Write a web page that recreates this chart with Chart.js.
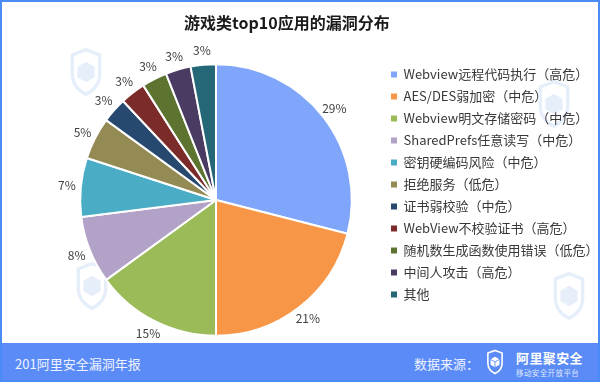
<!DOCTYPE html>
<html>
<head>
<meta charset="utf-8">
<script src="https://cdn.jsdelivr.net/npm/chart.js@4/dist/chart.umd.min.js"></script>
<style>
  html, body { margin:0; padding:0; background:#fff; }
  #wrap { position:relative; width:600px; height:382px; overflow:hidden; font-family:"Noto Sans CJK SC","Noto Sans",sans-serif; background:#fff; }
  #c { position:absolute; left:0; top:0; }
  #title { position:absolute; top:10px; left:184px; width:201px; text-align:center; font-size:16px; font-weight:bold; color:#1a1a1a; white-space:nowrap; }
  #footer { position:absolute; left:0; top:343px; width:600px; height:39px; background:#5b8bf6; color:#fff; }
  #border { position:absolute; left:0; top:0; width:596px; height:378px; border:2px solid #4a8bf7; pointer-events:none; }
  .ft { position:absolute; white-space:nowrap; }
  .wm { position:absolute; opacity:0.13; }
</style>
</head>
<body>
<div id="wrap">
  <svg class="wm" style="left:62px;top:48px;" width="48" height="48" viewBox="0 0 18 28"><path d="M9 1 L17 4 L17 15 C17 21 13 25 9 27 C5 25 1 21 1 15 L1 4 Z" fill="none" stroke="#4a7fe0" stroke-width="2"/><path d="M9 8 L14 11 L14 17 L9 20 L4 17 L4 11 Z" fill="#4a7fe0"/></svg>
  <svg class="wm" style="left:530px;top:80px;" width="48" height="48" viewBox="0 0 18 28"><path d="M9 1 L17 4 L17 15 C17 21 13 25 9 27 C5 25 1 21 1 15 L1 4 Z" fill="none" stroke="#4a7fe0" stroke-width="2"/><path d="M9 8 L14 11 L14 17 L9 20 L4 17 L4 11 Z" fill="#4a7fe0"/></svg>
  <svg class="wm" style="left:68px;top:262px;" width="48" height="48" viewBox="0 0 18 28"><path d="M9 1 L17 4 L17 15 C17 21 13 25 9 27 C5 25 1 21 1 15 L1 4 Z" fill="none" stroke="#4a7fe0" stroke-width="2"/><path d="M9 8 L14 11 L14 17 L9 20 L4 17 L4 11 Z" fill="#4a7fe0"/></svg>
  <svg class="wm" style="left:545px;top:272px;" width="48" height="48" viewBox="0 0 18 28"><path d="M9 1 L17 4 L17 15 C17 21 13 25 9 27 C5 25 1 21 1 15 L1 4 Z" fill="none" stroke="#4a7fe0" stroke-width="2"/><path d="M9 8 L14 11 L14 17 L9 20 L4 17 L4 11 Z" fill="#4a7fe0"/></svg>
  <canvas id="c" width="600" height="382"></canvas>
  <div id="title">游戏类top10应用的漏洞分布</div>
  <div id="footer">
    <div class="ft" style="left:15px;top:11px;font-size:13px;color:#eef3ff;">201阿里安全漏洞年报</div>
    <div class="ft" style="left:414px;top:11px;font-size:13px;color:#eef3ff;">数据来源：</div>
    <svg class="ft" style="left:487px;top:6px;" width="16" height="26" viewBox="0 0 18 28">
      <path d="M9 1 L17 4 L17 15 C17 21 13 25 9 27 C5 25 1 21 1 15 L1 4 Z" fill="none" stroke="#fff" stroke-width="1.8"/>
      <path d="M9 8 L14 11 L14 17 L9 20 L4 17 L4 11 Z" fill="#fff"/>
      <path d="M4 11 L9 14 L14 11 M9 14 L9 20" fill="none" stroke="#5b8bf6" stroke-width="1"/>
    </svg>
    <div class="ft" style="left:516px;top:5px;font-size:13px;font-weight:bold;letter-spacing:0.4px;">阿里聚安全</div>
    <div class="ft" style="left:516px;top:24px;font-size:7.5px;color:#dfe8ff;letter-spacing:0.4px;">移动安全开放平台</div>
  </div>
  <div id="border"></div>
</div>
<script>
const categories = [
  "Webview远程代码执行（高危）",
  "AES/DES弱加密（中危）",
  "Webview明文存储密码（中危）",
  "SharedPrefs任意读写（中危）",
  "密钥硬编码风险（中危）",
  "拒绝服务（低危）",
  "证书弱校验（中危）",
  "WebView不校验证书（高危）",
  "随机数生成函数使用错误（低危）",
  "中间人攻击（高危）",
  "其他"
];
const percentages = [29, 21, 15, 8, 7, 5, 3, 3, 3, 3, 3];
const sliceColors = ["#7fa6fa","#f79646","#9bbb59","#b2a2c7","#4bacc6","#948a54","#27496f","#7b2c2a","#5d7431","#4a3b62","#246877"];

const pctLabels = {
  id: 'pctLabels',
  afterDatasetsDraw(chart) {
    const ctx = chart.ctx;
    const meta = chart.getDatasetMeta(0);
    ctx.save();
    ctx.font = '12px "Noto Sans CJK SC", "Noto Sans", sans-serif';
    ctx.fillStyle = '#404040';
    ctx.textAlign = 'center';
    ctx.textBaseline = 'middle';
    meta.data.forEach((arc, i) => {
      const p = arc.getProps(['x','y','startAngle','endAngle','outerRadius'], true);
      const mid = (p.startAngle + p.endAngle) / 2;
      const r = p.outerRadius + 14;
      ctx.fillText(percentages[i] + '%', p.x + Math.cos(mid) * r, p.y + Math.sin(mid) * r);
    });
    ctx.restore();
  }
};

const legendWidthFix = {
  id: 'legendWidthFix',
  beforeInit(chart) {
    const orig = chart.legend.fit;
    chart.legend.fit = function() { orig.call(this); this.width = 218; };
  }
};

new Chart(document.getElementById('c'), {
  type: 'pie',
  data: {
    labels: categories,
    datasets: [{
      data: percentages,
      backgroundColor: sliceColors,
      borderColor: '#ffffff',
      borderWidth: 2,
      hoverOffset: 0
    }]
  },
  options: {
    responsive: false,
    animation: false,
    radius: '97%',
    layout: { padding: { left: 50, top: 59, bottom: 41, right: 0 } },
    plugins: {
      title: { display: false },
      tooltip: { enabled: false },
      legend: {
        position: 'right',
        align: 'start',
        labels: {
          boxWidth: 6,
          boxHeight: 6,
          padding: 9,
          color: '#383838',
          font: { size: 13, family: '"Noto Sans CJK SC", "Noto Sans", sans-serif' },
          generateLabels(chart) {
            const items = Chart.overrides.pie.plugins.legend.labels.generateLabels(chart);
            return items.map(it => Object.assign(it, { lineWidth: 0, strokeStyle: 'rgba(0,0,0,0)' }));
          }
        }
      }
    }
  },
  plugins: [pctLabels, legendWidthFix]
});
</script>
</body>
</html>
